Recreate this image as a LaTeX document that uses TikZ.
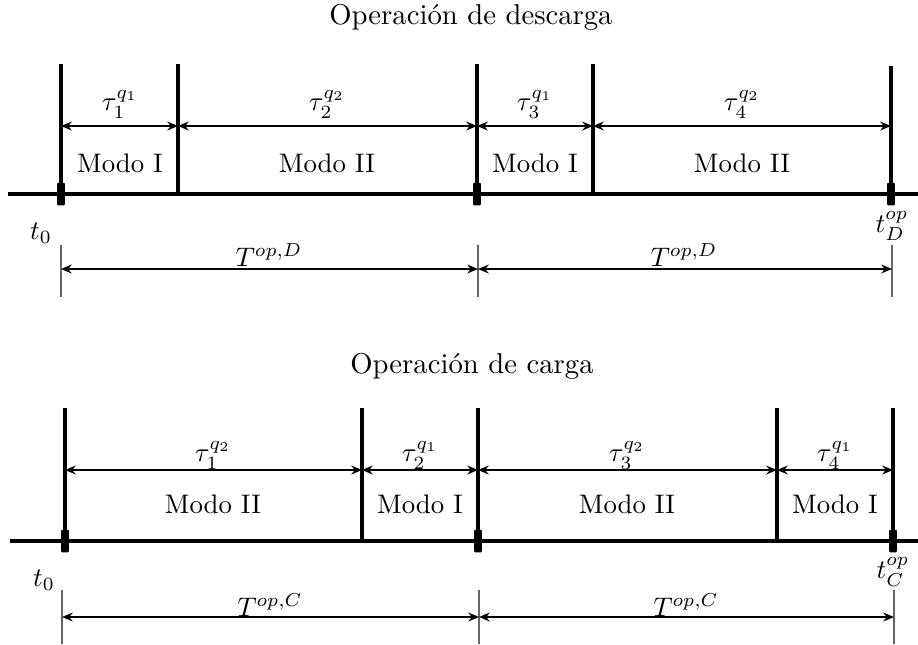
\documentclass[tikz,border=0pt]{standalone}
\usetikzlibrary{arrows.meta}
\begin{document}
\begin{tikzpicture}[x=0.373pt,y=-0.373pt,
  axisline/.style={line width=1.15pt},
  modeline/.style={line width=1.4pt},
  marker/.style={fill=black,draw=none,inner sep=0pt,minimum width=2.9pt,minimum height=8.4pt,rounded corners=0.4pt},
  dimarrow/.style={line width=0.65pt,{Stealth[length=4pt,width=3.3pt]}-{Stealth[length=4pt,width=3.3pt]}},
  tick/.style={line width=0.45pt,draw=black!60},
  lbl/.style={inner sep=0pt},
  ttl/.style={inner sep=0pt,font=\fontsize{10.7}{13}\selectfont}]
\useasboundingbox (0,0) rectangle (918,644);
% ================= TOP: descarga =================
\node[ttl] (title1) at (471,17) {Operación de descarga};
\coordinate (L1) at (8,194);
\coordinate (R1) at (918,194);
\draw[axisline] (L1) -- (R1);
\coordinate (X1a) at (423,193.3);
\coordinate (X1b) at (513,193.3);
\draw[axisline] (X1a) -- (X1b);
\foreach \n/\x/\t in {a/61/64,b/178/64,c/477/64,d/593/64,e/891/66}{
  \coordinate (U\n) at (\x,\t);
  \coordinate (B\n) at (\x,194);
  \coordinate (A\n) at (\x,126);
  \draw[modeline] (U\n) -- (B\n);
}
\node[marker] (m1a) at (61,194) {};
\node[marker] (m1c) at (477,194) {};
\node[marker] (m1e) at (891,194) {};
\draw[dimarrow] (Aa) -- (Ab);
\draw[dimarrow] (Ab) -- (Ac);
\draw[dimarrow] (Ac) -- (Ad);
\draw[dimarrow] (Ad) -- (Ae);
\node[lbl] (tau11) at (120,104) {$\tau_1^{q_1}$};
\node[lbl] (tau12) at (327,104) {$\tau_2^{q_2}$};
\node[lbl] (tau13) at (535,104) {$\tau_3^{q_1}$};
\node[lbl] (tau14) at (742,104) {$\tau_4^{q_2}$};
\node[lbl] (mo11) at (120,163) {Modo I};
\node[lbl] (mo12) at (327,163) {Modo II};
\node[lbl] (mo13) at (535,163) {Modo I};
\node[lbl] (mo14) at (742,163) {Modo II};
\node[lbl] (t01) at (41,233) {$t_0$};
\node[lbl] (tD) at (892,226) {$t_D^{op}$};
\foreach \n/\x in {a/61,c/478,e/892}{
  \coordinate (P\n) at (\x,245);
  \coordinate (Q\n) at (\x,297);
  \coordinate (S\n) at (\x,269);
  \draw[tick] (P\n) -- (Q\n);
}
\draw[dimarrow] (Sa) -- (Sc);
\draw[dimarrow] (Sc) -- (Se);
\node[lbl] (TD1) at (269,255) {$T^{op,D}$};
\node[lbl] (TD2) at (684,255) {$T^{op,D}$};
% ================= BOTTOM: carga =================
\node[ttl] (title2) at (472,366) {Operación de carga};
\coordinate (L2) at (10,541);
\coordinate (R2) at (918,541);
\draw[axisline] (L2) -- (R2);
\coordinate (X2a) at (425,540.3);
\coordinate (X2b) at (515,540.3);
\draw[axisline] (X2a) -- (X2b);
\foreach \n/\x in {f/65,g/362,h/478,i/777,j/893}{
  \coordinate (U\n) at (\x,408);
  \coordinate (B\n) at (\x,541);
  \coordinate (A\n) at (\x,470);
  \draw[modeline] (U\n) -- (B\n);
}
\node[marker] (m2f) at (65,541) {};
\node[marker] (m2h) at (478,541) {};
\node[marker] (m2j) at (893,541) {};
\draw[dimarrow] (Af) -- (Ag);
\draw[dimarrow] (Ag) -- (Ah);
\draw[dimarrow] (Ah) -- (Ai);
\draw[dimarrow] (Ai) -- (Aj);
\node[lbl] (tau21) at (213,455) {$\tau_1^{q_2}$};
\node[lbl] (tau22) at (420,455) {$\tau_2^{q_1}$};
\node[lbl] (tau23) at (627,455) {$\tau_3^{q_2}$};
\node[lbl] (tau24) at (835,455) {$\tau_4^{q_1}$};
\node[lbl] (mo21) at (213,504) {Modo II};
\node[lbl] (mo22) at (420,504) {Modo I};
\node[lbl] (mo23) at (627,504) {Modo II};
\node[lbl] (mo24) at (835,504) {Modo I};
\node[lbl] (t02) at (44,580) {$t_0$};
\node[lbl] (tC) at (893,572) {$t_C^{op}$};
\foreach \n/\x in {f/62,h/479,j/894}{
  \coordinate (P\n) at (\x,590);
  \coordinate (Q\n) at (\x,644);
  \coordinate (S\n) at (\x,617);
  \draw[tick] (P\n) -- (Q\n);
}
\draw[dimarrow] (Sf) -- (Sh);
\draw[dimarrow] (Sh) -- (Sj);
\node[lbl] (TC1) at (270,605) {$T^{op,C}$};
\node[lbl] (TC2) at (686,605) {$T^{op,C}$};
\end{tikzpicture}
\end{document}
